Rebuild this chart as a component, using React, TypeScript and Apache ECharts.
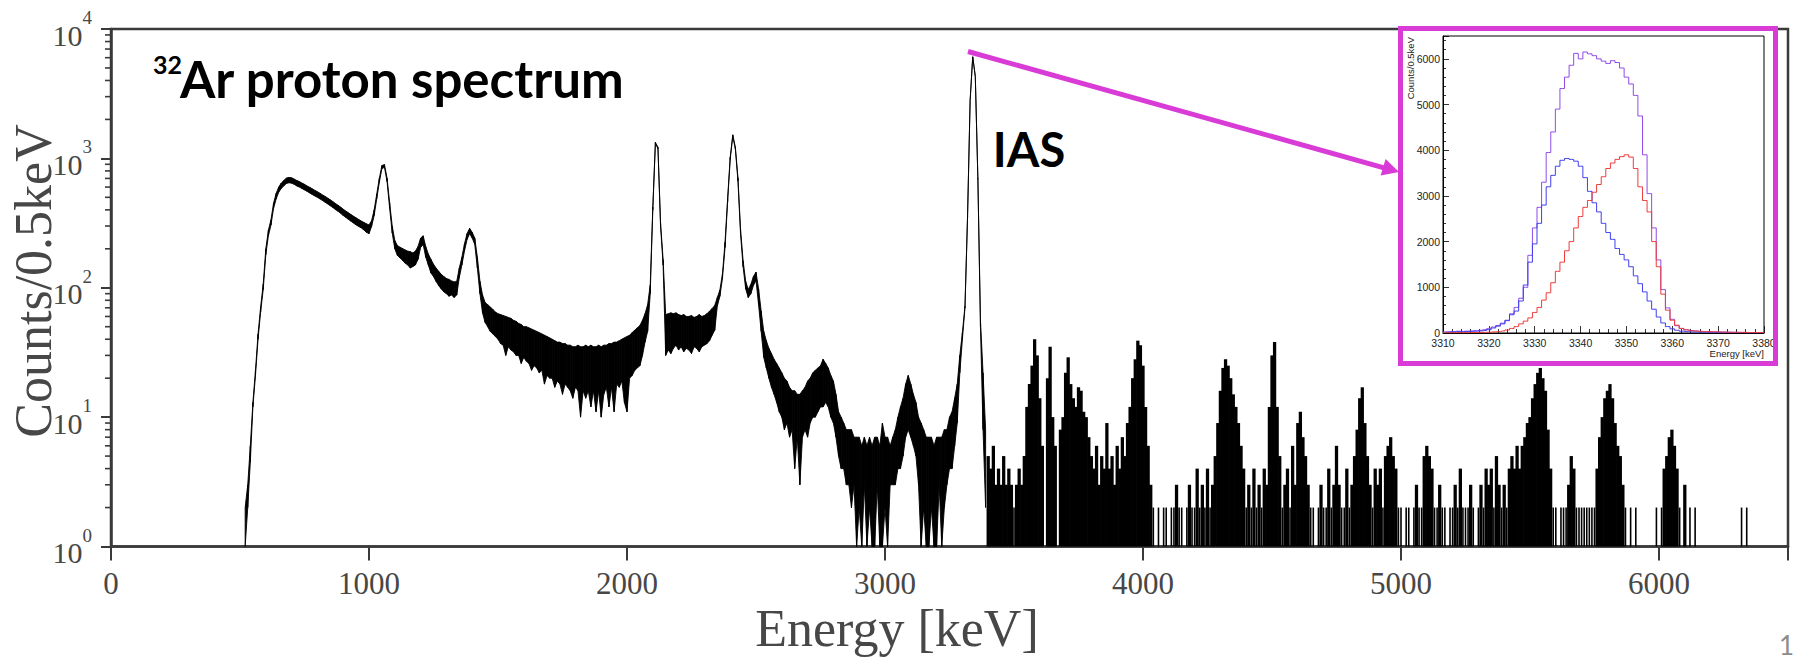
import React, { useEffect, useRef } from "react";
import * as echarts from "echarts";

// ---------------- main spectrum data (counts per 0.5 keV) ----------------
// continuous part: upper / lower envelope of the noisy histogram, 520 .. 3390 keV every 10 keV
const bandStartKeV = 520;
const bandStepKeV = 10;
const bandUpper = [
  2, 3, 6, 13, 23, 44, 71, 107, 200, 278,
  335, 450, 535, 600, 645, 675, 705, 712, 708, 692,
  675, 662, 645, 630, 612, 598, 582, 566, 552, 538,
  522, 508, 493, 478, 463, 448, 434, 420, 405, 392,
  380, 368, 357, 347, 337, 328, 320, 312, 306, 330,
  400, 530, 700, 880, 895, 705, 455, 300, 232, 212,
  206, 201, 196, 192, 190, 186, 192, 208, 242, 252,
  208, 182, 166, 152, 142, 134, 127, 122, 118, 116,
  113, 111, 112, 142, 172, 218, 262, 288, 268, 242,
  172, 112, 88, 77, 74, 71, 68, 65, 63, 62,
  61, 60, 59, 58, 56, 55, 53, 52, 50, 50,
  49, 48, 47, 46, 45, 44, 43, 42, 41, 40,
  39, 38, 38, 37, 37, 36, 36, 35, 35, 36,
  35, 35, 36, 35, 36, 35, 35, 36, 35, 36,
  36, 37, 37, 38, 38, 39, 40, 41, 42, 43,
  45, 47, 49, 51, 56, 63, 74, 105, 420, 1330,
  1220, 320, 165, 62, 63, 64, 63, 64, 62, 61,
  62, 60, 60, 61, 59, 60, 62, 60, 61, 63,
  66, 69, 73, 84, 96, 128, 225, 490, 1020, 1520,
  1220, 710, 285, 162, 112, 97, 106, 122, 132, 98,
  66, 46, 39, 34, 31, 28, 26, 24, 22, 20,
  19, 17, 16, 16, 15, 15, 16, 17, 19, 20,
  22, 23, 24, 25, 28, 26, 24, 21, 19, 15,
  11, 10, 9, 8, 8, 8, 7, 7, 7, 6,
  7, 6, 7, 6, 7, 7, 6, 9, 7, 7,
  6, 7, 8, 10, 12, 14, 18, 21, 18, 15,
  13, 10, 9, 8, 7, 7, 7, 6, 7, 7,
  7, 8, 8, 10, 11, 14, 18, 30, 45, 72,
  360, 2800, 6100, 4300, 700, 56, 22, 8,
];
const bandLower = [
  1, 2, 4.5, 12, 21, 40, 65, 97, 180, 252,
  305, 410, 485, 548, 585, 615, 640, 648, 643, 630,
  612, 600, 585, 570, 556, 540, 526, 512, 500, 486,
  472, 458, 444, 430, 417, 402, 390, 376, 362, 350,
  338, 327, 316, 306, 298, 290, 280, 268, 262, 298,
  362, 488, 652, 835, 852, 662, 412, 265, 200, 178,
  170, 163, 155, 150, 142, 146, 150, 166, 205, 216,
  172, 150, 130, 122, 112, 104, 98, 93, 90, 86,
  88, 84, 88, 120, 150, 192, 236, 262, 242, 216,
  142, 90, 64, 54, 50, 46, 44, 42, 40, 37,
  36, 30, 35, 33, 32, 30, 30, 26, 29, 27,
  26, 23, 25, 24, 22, 23, 18, 21, 20, 20,
  17, 19, 18, 15, 18, 17, 16, 14, 17, 16,
  10, 16, 14, 16, 12, 16, 11, 16, 10, 15,
  17, 12, 17, 11, 18, 17, 19, 13, 11, 20,
  21, 23, 24, 25, 30, 38, 46, 90, 400, 1300,
  1190, 300, 150, 30, 33, 31, 34, 36, 33, 35,
  32, 34, 33, 31, 35, 34, 32, 35, 36, 37,
  39, 43, 47, 72, 86, 118, 205, 460, 980, 1480,
  1180, 670, 262, 145, 98, 84, 90, 104, 114, 74,
  46, 29, 24, 20, 17, 15, 13, 11, 10, 8,
  9, 7, 8, 4, 7, 3, 7, 8, 7, 9,
  10, 10, 11, 12, 12, 13, 12, 10, 9, 7,
  5, 4, 4, 3, 3, 2, 3, 1, 2, 1,
  3, 1, 2, 1, 1, 3, 1, 1, 2, 1,
  3, 3, 3, 4, 4, 5, 7, 8, 7, 6,
  5, 3, 1, 2, 1, 1, 2, 1, 1, 3,
  1, 2, 3, 4, 4, 6, 9, 22, 40, 70,
  350, 2800, 6100, 4300, 690, 50, 8, 2,
];
// sparse part: highest count seen in each 10 keV slice, 3400 .. 6400 keV (1 = nothing above the axis)
const sparseStartKeV = 3400;
const sparseStepKeV = 10;
const sparseCounts = [
  5, 4, 6, 3, 4, 3, 5, 3, 4, 3,
  2, 3, 4, 3, 5, 12, 18, 25, 40, 30,
  14, 6, 1, 20, 35, 10, 6, 1, 8, 10,
  22, 29, 18, 14, 12, 17, 16, 11, 10, 7,
  5, 4, 6, 3, 5, 4, 9, 4, 5, 3,
  6, 4, 7, 5, 9, 12, 20, 28, 39, 36,
  25, 12, 6, 3, 2, 1, 2, 1, 2, 2,
  1, 2, 2, 3, 2, 2, 1, 2, 3, 2,
  2, 4, 2, 3, 2, 4, 2, 3, 5, 9,
  16, 24, 28, 25, 20, 15, 12, 9, 6, 4,
  2, 3, 2, 4, 2, 3, 2, 4, 3, 12,
  30, 38, 12, 5, 2, 3, 4, 2, 6, 3,
  9, 11, 7, 5, 3, 2, 2, 1, 2, 3,
  2, 2, 4, 2, 3, 6, 3, 2, 2, 4,
  2, 3, 5, 8, 14, 17, 9, 5, 3, 2,
  4, 3, 4, 2, 5, 6, 7, 5, 4, 2,
  2, 1, 2, 2, 1, 2, 3, 2, 2, 5,
  6, 5, 4, 2, 2, 3, 2, 2, 1, 2,
  2, 3, 2, 4, 2, 2, 2, 3, 2, 1,
  2, 3, 2, 4, 3, 4, 2, 5, 3, 2,
  3, 2, 4, 5, 4, 6, 4, 6, 7, 9,
  10, 14, 18, 22, 24, 20, 16, 8, 4, 2,
  2, 1, 2, 2, 2, 3, 5, 4, 2, 2,
  2, 2, 2, 2, 2, 2, 4, 7, 10, 14,
  16, 18, 14, 9, 6, 5, 3, 2, 1, 2,
  1, 2, 1, 1, 1, 1, 1, 1, 1, 2,
  1, 2, 4, 5, 7, 8, 6, 4, 2, 1,
  3, 1, 2, 1, 2, 1, 1, 1, 1, 1,
  1, 1, 1, 1, 1, 1, 1, 1, 1, 1,
  1, 1, 2, 1, 2, 1, 1, 1, 1, 1,
  1,
];
const yMinorTickValues = [
  2, 3, 4, 5, 6, 7, 8, 9,
  20, 30, 40, 50, 60, 70, 80, 90,
  200, 300, 400, 500, 600, 700, 800, 900,
  2000, 3000, 4000, 5000, 6000, 7000, 8000, 9000,
];

// ---------------- inset (IAS peak, 3310 .. 3380 keV every 1 keV) ----------------
const insetStartKeV = 3310;
const insetStepKeV = 1;
const insetTotal = [
  20, 25, 30, 40, 35, 40, 45, 50, 60, 75,
  95, 130, 165, 215, 280, 420, 560, 760, 1000, 1700,
  2300, 2750, 3300, 3950, 4400, 4900, 5350, 5600, 5860, 6120,
  6000, 6150, 6110, 6070, 6000, 5950, 5900, 5960, 5920, 5800,
  5600, 5450, 5200, 4750, 3900, 3050, 2300, 1600, 950, 550,
  300, 160, 100, 70, 55, 45, 35, 30, 28, 25,
  22, 20, 18, 16, 15, 14, 12, 11, 10, 10,
  8,
];
const insetBlue = [
  15, 20, 25, 30, 30, 35, 35, 40, 45, 55,
  73, 110, 150, 200, 270, 400, 480, 700, 1050, 1550,
  1950, 2400, 2800, 3200, 3450, 3650, 3780, 3820, 3800, 3760,
  3650, 3400, 3100, 2850, 2650, 2400, 2200, 2050, 1850, 1720,
  1600, 1450, 1250, 1080, 900, 700, 520, 350, 220, 140,
  90, 60, 40, 30, 25, 22, 20, 18, 15, 12,
  12, 10, 10, 8, 8, 7, 6, 6, 5, 5,
  4,
];
const insetRed = [
  5, 5, 6, 8, 6, 8, 10, 10, 12, 15,
  18, 25, 30, 45, 65, 100, 140, 200, 260, 330,
  450, 560, 720, 880, 1100, 1350, 1550, 1800, 2000, 2300,
  2550, 2750, 2900, 3080, 3250, 3420, 3600, 3720, 3800, 3860,
  3900, 3850, 3600, 3200, 2900, 2650, 2000, 1450, 850, 500,
  280, 170, 100, 70, 50, 42, 35, 30, 28, 25,
  22, 20, 18, 15, 14, 13, 12, 11, 10, 9,
  8,
];

const MAGENTA = "#d83bd6";
const AXIS = "#3a3a3a";
const TEXT = "#474747";

export default function App() {
  const ref = useRef<HTMLDivElement | null>(null);

  useEffect(() => {
    if (!ref.current) return;
    const chart = echarts.init(ref.current, null, { renderer: "svg", width: 1794, height: 665 });

    // one polygon per 10 keV slice between the lower and upper envelope
    const bandSegments = bandUpper.slice(0, -1).map((hi, i) => [
      bandStartKeV + i * bandStepKeV, bandLower[i], hi,
      bandStartKeV + (i + 1) * bandStepKeV, bandLower[i + 1], bandUpper[i + 1],
    ]);
    const sparseData = sparseCounts.map((v, i) => [sparseStartKeV + i * sparseStepKeV, v]);
    const insetSeries = (arr: number[]) => arr.map((v, i) => [insetStartKeV + i * insetStepKeV, v]);

    const option: any = {
      animation: false,
      backgroundColor: "#ffffff",
      grid: [
        {
          left: 111, right: 6, top: 29, bottom: 118.5,
          show: true, borderColor: AXIS, borderWidth: 2.5, backgroundColor: "transparent",
        },
        {
          left: 1443, right: 30, top: 36, bottom: 332,
          show: true, borderColor: "#000", borderWidth: 1, backgroundColor: "#fff", z: 3,
        },
      ],
      xAxis: [
        {
          gridIndex: 0, type: "value", min: 0, max: 6500, interval: 1000,
          axisLine: { show: true, onZero: false, lineStyle: { color: AXIS, width: 2.5 } },
          axisTick: { show: true, inside: false, length: 14, lineStyle: { color: AXIS, width: 2 } },
          axisLabel: {
            fontFamily: "Liberation Serif", fontSize: 31, color: TEXT, margin: 21,
            formatter: (v: number) => (v % 1000 === 0 ? String(v) : ""),
          },
          splitLine: { show: false },
        },
        {
          gridIndex: 1, type: "value", min: 3310, max: 3380, interval: 10, z: 3,
          axisLine: { show: true, onZero: false, lineStyle: { color: "#000", width: 1 } },
          axisTick: { show: true, inside: true, length: 7, lineStyle: { color: "#000", width: 0.8 } },
          minorTick: { show: true, splitNumber: 5, length: 4, lineStyle: { color: "#000", width: 0.8 } },
          axisLabel: {
            fontFamily: "Liberation Sans", fontSize: 10.5, color: "#222", margin: 4,
            formatter: (v: number) => String(v),
          },
          splitLine: { show: false },
        },
      ],
      yAxis: [
        {
          gridIndex: 0, type: "log", logBase: 10, min: 1, max: 10000,
          axisLine: { show: true, onZero: false, lineStyle: { color: AXIS, width: 2.5 } },
          axisTick: { show: true, inside: false, length: 10, lineStyle: { color: AXIS, width: 2 } },
          axisLabel: {
            margin: 19,
            formatter: (v: number) => `{b|10}{s|${Math.round(Math.log10(v))}}`,
            rich: {
              b: { fontFamily: "Liberation Serif", fontSize: 30, color: TEXT, lineHeight: 42, verticalAlign: "bottom" },
              s: { fontFamily: "Liberation Serif", fontSize: 19, color: TEXT, lineHeight: 20, verticalAlign: "top" },
            },
          },
          splitLine: { show: false },
        },
        {
          gridIndex: 1, type: "value", min: 0, max: 6500, interval: 1000, z: 3,
          axisLine: { show: true, onZero: false, lineStyle: { color: "#000", width: 1 } },
          axisTick: { show: true, inside: true, length: 6, lineStyle: { color: "#000", width: 0.8 } },
          minorTick: { show: true, splitNumber: 5, length: 3, lineStyle: { color: "#000", width: 0.8 } },
          axisLabel: {
            fontFamily: "Liberation Sans", fontSize: 10.5, color: "#222", margin: 3,
            formatter: (v: number) => (v % 1000 === 0 ? String(v) : ""),
          },
          splitLine: { show: false },
        },
      ],
      series: [
        {
          type: "custom", xAxisIndex: 0, yAxisIndex: 0, clip: false, silent: true, z: 3,
          data: yMinorTickValues.map((v) => [0, v]),
          renderItem: (_p: any, api: any) => {
            const pt = api.coord([0, api.value(1)]);
            return {
              type: "line",
              shape: { x1: pt[0] - 6, y1: pt[1], x2: pt[0], y2: pt[1] },
              style: { stroke: AXIS, lineWidth: 1.6 },
            };
          },
        },
        {
          name: "spectrum", type: "custom", xAxisIndex: 0, yAxisIndex: 0, silent: true, z: 2,
          data: bandSegments,
          encode: { x: [0, 3], y: [1, 2, 4, 5] },
          renderItem: (_p: any, api: any) => {
            const a = api.coord([api.value(0), api.value(2)]);
            const b = api.coord([api.value(3), api.value(5)]);
            const c = api.coord([api.value(3), api.value(4)]);
            const d = api.coord([api.value(0), api.value(1)]);
            return {
              type: "polygon",
              shape: { points: [a, b, c, d] },
              style: { fill: "#000", stroke: "#000", lineWidth: 0.9, lineJoin: "round" },
            };
          },
        },
        {
          name: "sparse", type: "custom", xAxisIndex: 0, yAxisIndex: 0, silent: true, z: 2,
          data: sparseData,
          renderItem: (_p: any, api: any) => {
            const e = api.value(0);
            const c = api.value(1);
            if (!(c > 1)) return null;
            const top = api.coord([e, c]);
            const base = api.coord([e, 1]);
            const full = api.coord([e + sparseStepKeV / 2, 1])[0] - api.coord([e - sparseStepKeV / 2, 1])[0];
            // busy slices look solid, quiet ones are thin histogram spikes
            const w = c >= 3 ? full + 0.7 : full * 0.62;
            return {
              type: "rect",
              shape: { x: top[0] - w / 2, y: top[1], width: w, height: base[1] - top[1] },
              style: { fill: "#000" },
            };
          },
        },
        {
          name: "total", type: "line", xAxisIndex: 1, yAxisIndex: 1, step: "middle", symbol: "none",
          data: insetSeries(insetTotal), lineStyle: { color: "#8f4be8", width: 1 }, z: 4,
        },
        {
          name: "blue", type: "line", xAxisIndex: 1, yAxisIndex: 1, step: "middle", symbol: "none",
          data: insetSeries(insetBlue), lineStyle: { color: "#3f3ff0", width: 1 }, z: 4,
        },
        {
          name: "red", type: "line", xAxisIndex: 1, yAxisIndex: 1, step: "middle", symbol: "none",
          data: insetSeries(insetRed), lineStyle: { color: "#f03a3a", width: 1 }, z: 4,
        },
      ],
      graphic: [
        { type: "rect", z: 1, shape: { x: 1400.5, y: 28.5, width: 375, height: 335 }, style: { fill: "#fff" } },
        { type: "rect", z: 10, shape: { x: 1400.5, y: 28.5, width: 375, height: 335 }, style: { fill: "none", stroke: MAGENTA, lineWidth: 5 } },
        { type: "line", z: 10, shape: { x1: 968, y1: 51.5, x2: 1384, y2: 167.8 }, style: { stroke: MAGENTA, lineWidth: 5 } },
        { type: "polygon", z: 10, shape: { points: [[1399, 172], [1380.6, 175.6], [1385.6, 158.9]] }, style: { fill: MAGENTA } },
        {
          type: "text", z: 10, x: 153, y: 64,
          style: { text: "32", fill: "#000", font: "bold 25px Lato", textAlign: "left", textVerticalAlign: "middle" },
        },
        {
          type: "text", z: 10, x: 180, y: 78,
          style: { text: "Ar proton spectrum", fill: "#000", font: "bold 51px Lato", textAlign: "left", textVerticalAlign: "middle" },
        },
        {
          type: "text", z: 10, x: 1029, y: 149,
          style: { text: "IAS", fill: "#000", font: "bold 47px Lato", textAlign: "center", textVerticalAlign: "middle" },
        },
        {
          type: "text", z: 10, x: 897, y: 628,
          style: { text: "Energy [keV]", fill: TEXT, font: '52px "Liberation Serif"', textAlign: "center", textVerticalAlign: "middle" },
        },
        {
          type: "text", z: 10, x: 33, y: 281, rotation: Math.PI / 2,
          style: { text: "Counts/0.5keV", fill: TEXT, font: '52px "Liberation Serif"', textAlign: "center", textVerticalAlign: "middle" },
        },
        {
          type: "text", z: 10, x: 1410, y: 37, rotation: Math.PI / 2,
          style: { text: "Counts/0.5keV", fill: "#222", font: '9.5px "Liberation Sans"', textAlign: "right", textVerticalAlign: "middle" },
        },
        {
          type: "text", z: 10, x: 1764, y: 353,
          style: { text: "Energy [keV]", fill: "#222", font: '9.5px "Liberation Sans"', textAlign: "right", textVerticalAlign: "middle" },
        },
        {
          type: "text", z: 10, x: 1779, y: 645,
          style: { text: "1", fill: "#8c8c8c", font: "26px Lato", textAlign: "left", textVerticalAlign: "middle" },
        },
      ],
    };

    chart.setOption(option);
    return () => chart.dispose();
  }, []);

  return (
    <div
      ref={ref}
      style={{ position: "absolute", left: 0, top: 0, width: 1794, height: 665, background: "#fff" }}
    />
  );
}
